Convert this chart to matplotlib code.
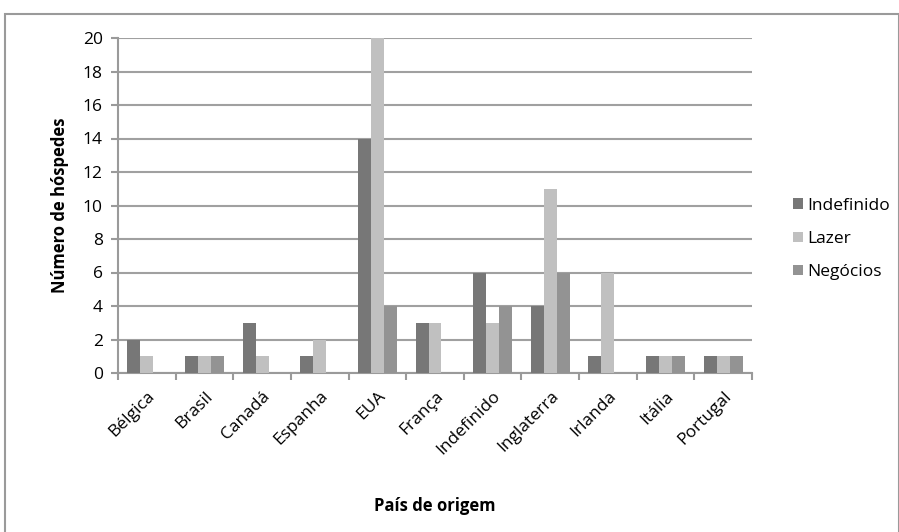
import matplotlib
matplotlib.use("Agg")
import matplotlib.pyplot as plt
import matplotlib.transforms as mtransforms
import numpy as np
from matplotlib.patches import Rectangle

plt.rcParams['font.family'] = ['Open Sans', 'DejaVu Sans']

paises = ["Bélgica", "Brasil", "Canadá", "Espanha", "EUA", "França",
          "Indefinido", "Inglaterra", "Irlanda", "Itália", "Portugal"]
indefinido = [2, 1, 3, 1, 14, 3, 6, 4, 1, 1, 1]
lazer = [1, 1, 1, 2, 20, 3, 3, 11, 6, 1, 1]
negocios = [0, 1, 0, 0, 4, 0, 4, 6, 0, 1, 1]

series = [("Indefinido", indefinido, "#777777"),
          ("Lazer", lazer, "#c0c0c0"),
          ("Negócios", negocios, "#939393")]

fig = plt.figure(figsize=(8.99, 5.32), dpi=100)
fig.patches.append(Rectangle((5 / 899, -0.01), 0.9995 - 5 / 899, 1 - 14 / 532 + 0.01,
                             transform=fig.transFigure, fill=False,
                             edgecolor="#9a9a9a", linewidth=1.5))

ax = fig.add_axes([118 / 899, 1 - 373 / 532, 634 / 899, 335 / 532])

x = np.arange(len(paises))
w = 0.225
for i, (nome, vals, cor) in enumerate(series):
    ax.bar(x + (i - 1) * w, vals, width=w, color=cor, label=nome, zorder=3)

ax.set_xlim(-0.5, len(paises) - 0.5)
ax.set_ylim(0, 20)
ax.set_yticks(range(0, 21, 2))
ax.yaxis.grid(True, color="#a0a0a0", linewidth=1.5, zorder=0)
ax.set_axisbelow(True)

fs = 12.5
ax.set_xticks(x)
ax.set_xticklabels(paises, rotation=45, ha="right", rotation_mode="anchor", fontsize=fs)
shift = mtransforms.ScaledTranslation(-8 / 100, 0, fig.dpi_scale_trans)
for lab in ax.get_xticklabels():
    lab.set_transform(lab.get_transform() + shift)
ax.set_xticks(np.arange(-0.5, len(paises)), minor=True)
ax.tick_params(axis="x", which="major", length=0, pad=11)
ax.tick_params(axis="x", which="minor", length=5, color="#9a9a9a", width=1.5)
ax.tick_params(axis="y", length=5, color="#9a9a9a", width=1.5, labelsize=fs, pad=6)

for s in ["top", "right"]:
    ax.spines[s].set_visible(False)
for s in ["left", "bottom"]:
    ax.spines[s].set_color("#9a9a9a")
    ax.spines[s].set_linewidth(1.5)

ax.set_ylabel("Número de hóspedes", fontsize=12, fontweight="bold", labelpad=10)
ax.set_xlabel("País de origem", fontsize=12, fontweight="bold", labelpad=28)

leg = ax.legend(loc="center left", bbox_to_anchor=(1.04, 0.4), frameon=False,
                fontsize=fs, handlelength=0.55, handleheight=0.55,
                handletextpad=0.25, labelspacing=1.0)

fig.savefig("out.png", dpi=100)
